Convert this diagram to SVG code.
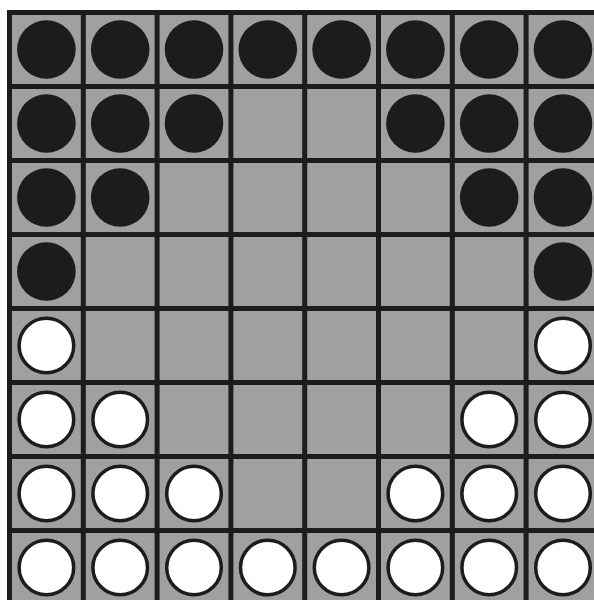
<svg xmlns="http://www.w3.org/2000/svg" xmlns:xlink="http://www.w3.org/1999/xlink" width="594" height="600" viewBox="0 0 594 600">
<style>
.b{fill:#1c1c1c}
.w{fill:#ffffff;stroke:#1c1c1c;stroke-width:3.5}
.g{stroke:#1c1c1c;stroke-width:5}
</style>
<defs>
<circle id="pb" class="b" r="29.3"/>
<circle id="pw" class="w" r="27.3"/>
</defs>
<rect width="594" height="600" fill="#ffffff"/>
<g id="board">
<rect x="9.5" y="12.5" width="590.4" height="592" fill="#a0a0a0"/>
<g class="g">
<line x1="9.5" y1="10" x2="9.5" y2="600"/>
<line x1="83.3" y1="10" x2="83.3" y2="600"/>
<line x1="157.1" y1="10" x2="157.1" y2="600"/>
<line x1="230.9" y1="10" x2="230.9" y2="600"/>
<line x1="304.7" y1="10" x2="304.7" y2="600"/>
<line x1="378.5" y1="10" x2="378.5" y2="600"/>
<line x1="452.3" y1="10" x2="452.3" y2="600"/>
<line x1="526.1" y1="10" x2="526.1" y2="600"/>
<line x1="7" y1="12.5" x2="594" y2="12.5"/>
<line x1="7" y1="86.5" x2="594" y2="86.5"/>
<line x1="7" y1="160.5" x2="594" y2="160.5"/>
<line x1="7" y1="234.5" x2="594" y2="234.5"/>
<line x1="7" y1="308.5" x2="594" y2="308.5"/>
<line x1="7" y1="382.5" x2="594" y2="382.5"/>
<line x1="7" y1="456.5" x2="594" y2="456.5"/>
<line x1="7" y1="530.5" x2="594" y2="530.5"/>
</g>
</g>
<g id="black-pieces">
<use xlink:href="#pb" x="46.4" y="49.5"/><use xlink:href="#pb" x="120.2" y="49.5"/><use xlink:href="#pb" x="194" y="49.5"/><use xlink:href="#pb" x="267.8" y="49.5"/><use xlink:href="#pb" x="341.6" y="49.5"/><use xlink:href="#pb" x="415.4" y="49.5"/><use xlink:href="#pb" x="489.2" y="49.5"/><use xlink:href="#pb" x="563" y="49.5"/>
<use xlink:href="#pb" x="46.4" y="123.5"/><use xlink:href="#pb" x="120.2" y="123.5"/><use xlink:href="#pb" x="194" y="123.5"/><use xlink:href="#pb" x="415.4" y="123.5"/><use xlink:href="#pb" x="489.2" y="123.5"/><use xlink:href="#pb" x="563" y="123.5"/>
<use xlink:href="#pb" x="46.4" y="197.5"/><use xlink:href="#pb" x="120.2" y="197.5"/><use xlink:href="#pb" x="489.2" y="197.5"/><use xlink:href="#pb" x="563" y="197.5"/>
<use xlink:href="#pb" x="46.4" y="271.5"/><use xlink:href="#pb" x="563" y="271.5"/>
</g>
<g id="white-pieces">
<use xlink:href="#pw" x="46.4" y="345.5"/><use xlink:href="#pw" x="563" y="345.5"/>
<use xlink:href="#pw" x="46.4" y="419.5"/><use xlink:href="#pw" x="120.2" y="419.5"/><use xlink:href="#pw" x="489.2" y="419.5"/><use xlink:href="#pw" x="563" y="419.5"/>
<use xlink:href="#pw" x="46.4" y="493.5"/><use xlink:href="#pw" x="120.2" y="493.5"/><use xlink:href="#pw" x="194" y="493.5"/><use xlink:href="#pw" x="415.4" y="493.5"/><use xlink:href="#pw" x="489.2" y="493.5"/><use xlink:href="#pw" x="563" y="493.5"/>
<use xlink:href="#pw" x="46.4" y="567.5"/><use xlink:href="#pw" x="120.2" y="567.5"/><use xlink:href="#pw" x="194" y="567.5"/><use xlink:href="#pw" x="267.8" y="567.5"/><use xlink:href="#pw" x="341.6" y="567.5"/><use xlink:href="#pw" x="415.4" y="567.5"/><use xlink:href="#pw" x="489.2" y="567.5"/><use xlink:href="#pw" x="563" y="567.5"/>
</g>
</svg>
